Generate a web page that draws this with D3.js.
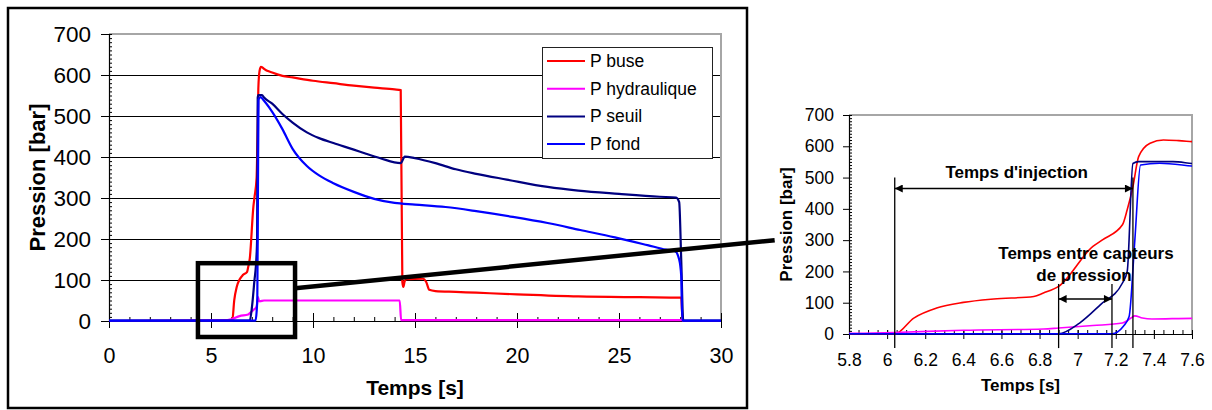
<!DOCTYPE html>
<html><head><meta charset="utf-8">
<script src="https://cdn.jsdelivr.net/npm/d3@7"></script>
<style>body{margin:0;background:#fff}svg{display:block;font-family:"Liberation Sans",Arial,sans-serif}</style>
</head><body><svg id="c" width="1212" height="410"></svg>
<script>
// ---------- data ----------
const seriesNames = ["P buse", "P hydraulique", "P seuil", "P fond"];

const buseT = [0, 6.0, 6.04, 6.14, 6.26, 6.4, 6.56, 6.77, 6.82, 6.9, 7.08, 7.13, 7.235, 7.26, 7.29, 7.32, 7.38, 7.45, 7.53, 7.6, 8, 8.5, 9, 10, 11, 12, 13, 14, 14.3, 14.38, 14.43, 14.5, 14.6, 15.4, 15.55, 15.7, 16, 17, 18, 20, 23, 26, 28.05, 28.12, 30];
const buseP = [0, 0, 0, 51, 83, 101, 112, 120, 131, 152, 280, 301, 349, 397, 471, 567, 610, 620, 618, 615, 606, 598, 594, 586, 580, 574, 569, 565, 563, 95, 83, 98, 102, 103, 95, 76, 73, 71, 69, 65, 60, 58, 57, 0, 0];

const hydT = [0, 5.8, 6.04, 6.4, 6.82, 6.9, 7.08, 7.235, 7.28, 7.3, 7.34, 7.39, 7.6, 14.25, 14.32, 28.1, 28.2, 30];
const hydP = [0, 2, 5, 12, 16, 19, 27, 35, 51, 58, 51, 48, 50, 50, 2, 2, 0, 0];

const seuilT = [0, 6.9, 7.01, 7.12, 7.235, 7.26, 7.29, 7.32, 7.5, 7.6, 8, 8.5, 9, 9.7, 10.3, 11, 12, 12.6, 13.3, 14.3, 14.5, 15, 16, 17, 18, 19.5, 21.5, 23, 25, 27, 27.8, 27.95, 28.05, 28.15, 30];
const seuilP = [1, 1, 35, 94, 163, 200, 545, 551, 551, 545, 530, 505, 484, 460, 446, 434, 418, 408, 397, 385, 401, 397, 385, 370, 359, 345, 327, 318, 310, 303, 301, 290, 150, 1, 1];

const fondT = [0, 7.18, 7.24, 7.27, 7.3, 7.33, 7.43, 7.6, 7.7, 8, 8.5, 9, 9.7, 10.3, 11, 12, 13, 14, 15, 16.5, 18, 19.8, 21.5, 23.1, 24.8, 26.4, 27.3, 27.75, 27.95, 28.05, 28.1, 30];
const fondP = [1, 1, 25, 56, 300, 540, 546, 537, 531, 510, 468, 420, 378, 355, 336, 315, 298, 288, 284, 278, 268, 254, 239, 222, 204, 185, 174, 170, 150, 110, 1, 1];

const mainXTicks = [0, 5, 10, 15, 20, 25, 30];
const mainYTicks = [0, 100, 200, 300, 400, 500, 600, 700];
const zoomXTicks = ["5.8", "6", "6.2", "6.4", "6.6", "6.8", "7", "7.2", "7.4", "7.6"];
const zoomYTicks = [0, 100, 200, 300, 400, 500, 600, 700];

// ---------- styles ----------
const colors = ["#ff0000", "#ff00ff", "#000080", "#0000ff"];
const seriesT = [buseT, hydT, seuilT, fondT];
const seriesP = [buseP, hydP, seuilP, fondP];
const FF = "Liberation Sans, Arial, sans-serif";

const svg = d3.select("#c");
svg.append("rect").attr("width", 1212).attr("height", 410).attr("fill", "#fff");

const defs = svg.append("defs");
defs.append("marker").attr("id", "arr").attr("viewBox", "0 0 10 10")
  .attr("refX", 10).attr("refY", 5).attr("markerWidth", 11).attr("markerHeight", 8)
  .attr("markerUnits", "userSpaceOnUse").attr("orient", "auto-start-reverse")
  .append("path").attr("d", "M0,0L10,5L0,10z").attr("fill", "#000");

// ---------- main chart ----------
const xM = d3.scaleLinear().domain([0, 30]).range([109, 721]);
const yM = d3.scaleLinear().domain([0, 700]).range([321, 34]);

defs.append("clipPath").attr("id", "clipM").append("rect")
  .attr("x", 109).attr("y", 30).attr("width", 612).attr("height", 293);

svg.append("rect").attr("x", 8).attr("y", 8).attr("width", 739).attr("height", 400)
  .attr("fill", "none").attr("stroke", "#000").attr("stroke-width", 2.5);

const gM = svg.append("g");
gM.append("g").selectAll("line").data(mainYTicks.slice(1, -1)).join("line")
  .attr("x1", xM(0)).attr("x2", xM(30)).attr("y1", d => Math.round(yM(d)) + 0.5).attr("y2", d => Math.round(yM(d)) + 0.5)
  .attr("stroke", "#000").attr("stroke-width", 1);
gM.append("path").attr("d", `M${xM(0)},${yM(700)}H${xM(30)}V${yM(0)}`)
  .attr("fill", "none").attr("stroke", "#a6a6a6").attr("stroke-width", 2);

const yAxM = gM.append("g").attr("transform", `translate(${xM(0)},0)`)
  .call(d3.axisLeft(yM).tickValues(mainYTicks).tickSize(8).tickSizeOuter(0).tickPadding(10));
yAxM.selectAll("text").attr("font-size", 22.5).attr("fill", "#000").attr("font-family", FF);
const yMinM = gM.append("g").attr("transform", `translate(${xM(0)},0)`)
  .call(d3.axisLeft(yM).tickValues(d3.range(0, 701, 10)).tickSize(3).tickSizeOuter(0).tickFormat(""));
yMinM.selectAll(".tick line").attr("x2", 3);
yMinM.select(".domain").remove();

const xAxM = gM.append("g").attr("transform", `translate(0,${yM(0)})`)
  .call(d3.axisBottom(xM).tickValues(mainXTicks).tickSize(7).tickSizeOuter(0).tickPadding(20));
xAxM.selectAll(".tick line").attr("y1", -8);
xAxM.selectAll("text").attr("font-size", 21.5).attr("fill", "#000").attr("font-family", FF);
const xMinM = gM.append("g").attr("transform", `translate(0,${yM(0)})`)
  .call(d3.axisBottom(xM).tickValues(d3.range(0, 31, 1)).tickSize(0).tickSizeOuter(0).tickFormat(""));
xMinM.selectAll(".tick line").attr("y1", -4).attr("y2", 0);
xMinM.select(".domain").remove();
gM.selectAll(".domain").attr("stroke", "#000").attr("stroke-width", 1.2);

const gSM = gM.append("g").attr("clip-path", "url(#clipM)");
seriesT.forEach((T, s) => {
  const P = seriesP[s];
  const line = d3.line().curve(d3.curveMonotoneX).x(i => xM(T[i])).y(i => yM(P[i]));
  gSM.append("path").attr("d", line(d3.range(T.length)))
    .attr("fill", "none").attr("stroke", colors[s]).attr("stroke-width", 2.2).attr("stroke-linejoin", "round");
});

svg.append("text").attr("x", (xM(0) + xM(30)) / 2).attr("y", 395).attr("text-anchor", "middle")
  .attr("font-size", 21).attr("font-weight", "bold").text("Temps [s]");
svg.append("text").attr("transform", `translate(45,${(yM(0) + yM(700)) / 2}) rotate(-90)`).attr("text-anchor", "middle")
  .attr("font-size", 22).attr("font-weight", "bold").text("Pression [bar]");

const lg = svg.append("g");
lg.append("rect").attr("x", 542.5).attr("y", 47.5).attr("width", 170).attr("height", 111)
  .attr("fill", "#fff").attr("stroke", "#222").attr("stroke-width", 1);
seriesNames.forEach((n, i) => {
  const yy = 61 + i * 27.7;
  lg.append("line").attr("x1", 547).attr("x2", 585).attr("y1", yy).attr("y2", yy)
    .attr("stroke", colors[i]).attr("stroke-width", 2);
  lg.append("text").attr("x", 590).attr("y", yy + 6).attr("font-size", 17.5).text(n);
});

// ---------- zoom chart ----------
const xR = d3.scaleLinear().domain([5.8, 7.6]).range([849, 1192]);
const yR = d3.scaleLinear().domain([0, 700]).range([334, 115]);

defs.append("clipPath").attr("id", "clipR").append("rect")
  .attr("x", 849).attr("y", 112).attr("width", 343).attr("height", 224);

const gR = svg.append("g");
gR.append("path").attr("d", `M${xR(5.8)},${yR(700)}H${xR(7.6)}V${yR(0)}`)
  .attr("fill", "none").attr("stroke", "#a6a6a6").attr("stroke-width", 2);

const yAxR = gR.append("g").attr("transform", `translate(${xR(5.8)},0)`)
  .call(d3.axisLeft(yR).tickValues(zoomYTicks).tickSize(6).tickSizeOuter(0).tickPadding(9));
yAxR.selectAll("text").attr("font-size", 17.5).attr("fill", "#000").attr("font-family", FF);
const yMinR = gR.append("g").attr("transform", `translate(${xR(5.8)},0)`)
  .call(d3.axisLeft(yR).tickValues(d3.range(0, 701, 10)).tickSize(3).tickSizeOuter(0).tickFormat(""));
yMinR.selectAll(".tick line").attr("x2", 3);
yMinR.select(".domain").remove();

const xAxR = gR.append("g").attr("transform", `translate(0,${yR(0)})`)
  .call(d3.axisBottom(xR).tickValues(zoomXTicks.map(Number)).tickSize(5).tickSizeOuter(0).tickPadding(15)
    .tickFormat((d, i) => zoomXTicks[i]));
xAxR.selectAll(".tick line").attr("y1", -4);
xAxR.selectAll("text").attr("font-size", 17.5).attr("fill", "#000").attr("font-family", FF);
const xMinR = gR.append("g").attr("transform", `translate(0,${yR(0)})`)
  .call(d3.axisBottom(xR).tickValues(d3.range(0, 37).map(i => 5.8 + i * 0.05)).tickSize(0).tickSizeOuter(0).tickFormat(""));
xMinR.selectAll(".tick line").attr("y1", -4).attr("y2", 0);
xMinR.select(".domain").remove();
gR.selectAll(".domain").attr("stroke", "#000").attr("stroke-width", 1.2);

const gSR = gR.append("g").attr("clip-path", "url(#clipR)");
seriesT.forEach((T, s) => {
  const P = seriesP[s];
  const line = d3.line().curve(d3.curveMonotoneX).x(i => xR(T[i])).y(i => yR(P[i]));
  gSR.append("path").attr("d", line(d3.range(T.length)))
    .attr("fill", "none").attr("stroke", colors[s]).attr("stroke-width", 1.6).attr("stroke-linejoin", "round");
});

svg.append("text").attr("x", (xR(5.8) + xR(7.6)) / 2).attr("y", 391).attr("text-anchor", "middle")
  .attr("font-size", 17).attr("font-weight", "bold").text("Temps [s]");
svg.append("text").attr("transform", `translate(792,${(yR(0) + yR(700)) / 2}) rotate(-90)`).attr("text-anchor", "middle")
  .attr("font-size", 17).attr("font-weight", "bold").text("Pression [bar]");

const ann = svg.append("g").attr("stroke", "#000");
[[6.04, 500], [7.29, 500], [6.9, 160], [7.18, 160]].forEach(([t, top]) => {
  ann.append("line").attr("x1", xR(t)).attr("x2", xR(t)).attr("y1", yR(top)).attr("y2", yR(-45)).attr("stroke-width", 1.3);
});
ann.append("line").attr("x1", xR(6.04)).attr("x2", xR(7.29)).attr("y1", yR(465)).attr("y2", yR(465))
  .attr("stroke-width", 1.5).attr("marker-start", "url(#arr)").attr("marker-end", "url(#arr)");
ann.append("line").attr("x1", xR(6.9)).attr("x2", xR(7.18)).attr("y1", yR(112)).attr("y2", yR(112))
  .attr("stroke-width", 1.5).attr("marker-start", "url(#arr)").attr("marker-end", "url(#arr)");
svg.append("text").attr("x", xR(6.68)).attr("y", 178).attr("text-anchor", "middle")
  .attr("font-size", 17).attr("font-weight", "bold").text("Temps d'injection");
svg.append("text").attr("x", 1086).attr("y", 259).attr("text-anchor", "middle")
  .attr("font-size", 17).attr("font-weight", "bold").text("Temps entre capteurs");
svg.append("text").attr("x", 1084).attr("y", 281).attr("text-anchor", "middle")
  .attr("font-size", 17).attr("font-weight", "bold").text("de pression");

svg.append("rect").attr("x", xM(4.36)).attr("y", yM(141)).attr("width", xM(9.12) - xM(4.36)).attr("height", yM(-39) - yM(141))
  .attr("fill", "none").attr("stroke", "#000").attr("stroke-width", 4.5);
svg.append("line").attr("x1", xM(9.12)).attr("y1", yM(80)).attr("x2", xR(5.41)).attr("y2", yR(300))
  .attr("stroke", "#000").attr("stroke-width", 4.5);
</script></body></html>
